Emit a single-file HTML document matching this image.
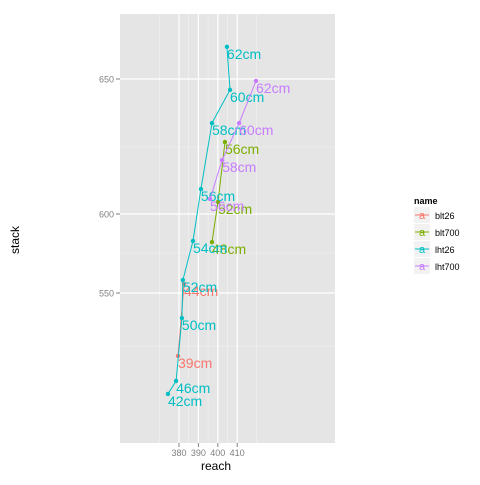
<!DOCTYPE html>
<html><head><meta charset="utf-8"><style>
body{margin:0;background:#fff;}
svg text{font-family:"Liberation Sans",sans-serif;}
</style></head><body>
<svg width="480" height="480" xmlns="http://www.w3.org/2000/svg">
<rect x="120" y="14" width="215" height="429" fill="#E5E5E5"/>
<g id="grid"></g>
<g id="marks"></g>
<g id="axes"></g>
<text x="216" y="470" font-size="12" text-anchor="middle">reach</text>
<text transform="translate(19,240) rotate(-90)" font-size="12" text-anchor="middle">stack</text>
<g id="legend"></g>
</svg>
<script>
const seriesNames=["blt26","blt700","lht26","lht700"];
const colors=["#F8766D","#7CAE00","#00BFC4","#C77CFF"];
const blt26Reach=[379.5,382.6];
const blt26Stack=[520.4,555.6];
const blt26Labels=["39cm","44cm"];
const blt700Reach=[397,400.1,403.7];
const blt700Stack=[582,604.5,626.8];
const blt700Labels=["48cm","52cm","56cm"];
const lht26Reach=[374.3,378.5,381.5,382,387.2,391.3,397,406.3,404.7];
const lht26Stack=[502.8,508.8,538.2,558.1,582.7,609.3,633.8,646,662];
const lht26Labels=["42cm","46cm","50cm","52cm","54cm","56cm","58cm","60cm","62cm"];
const lht700Reach=[396,402.2,411,419.7];
const lht700Stack=[605.6,620.1,633.8,649.3];
const lht700Labels=["56cm","58cm","60cm","62cm"];
const xTicks=[380,390,400,410];
const yTicks=[550,600,650];
const yMinor=[525,575,625];
const NS="http://www.w3.org/2000/svg";
function xs(v){return 179+(v-380)*1.94;}
const yk=[475,500,525,550,575,600,625,650,675],yp=[454,400,346,293,253,214,147,79,12];
function ys(v){for(let i=0;i<yk.length-1;i++){if(v<=yk[i+1]||i==yk.length-2){return yp[i]+(v-yk[i])/(yk[i+1]-yk[i])*(yp[i+1]-yp[i]);}}}
function mk(t,a,p){const e=document.createElementNS(NS,t);for(const k in a)e.setAttribute(k,a[k]);p.appendChild(e);return e;}
const grid=document.getElementById('grid'),marks=document.getElementById('marks'),axes=document.getElementById('axes'),leg=document.getElementById('legend');
for(const v of yMinor){const l=mk('line',{x1:120,x2:335,y1:ys(v),y2:ys(v),stroke:'#F2F2F2','stroke-width':0.6},grid);

}
for(let i=0;i<xTicks.length-1;i++){const v=(xTicks[i]+xTicks[i+1])/2;const l=mk('line',{x1:xs(v),x2:xs(v),y1:14,y2:443,stroke:'#F2F2F2','stroke-width':0.6},grid);

}
for(const v of [370,420]){const l=mk('line',{x1:xs(v),x2:xs(v),y1:14,y2:443,stroke:'#F2F2F2','stroke-width':0.6},grid);

}
for(const v of yTicks){const y=ys(v);const l=mk('line',{x1:120,x2:335,y1:y,y2:y,stroke:'#fff','stroke-width':1.2},grid);


const tk=mk('line',{x1:116,x2:120,y1:y,y2:y,stroke:'#7F7F7F'},axes);


const t=mk('text',{x:114,y:y+3.5,'font-size':9,'text-anchor':'end',fill:'#7F7F7F'},axes);t.textContent=v;

}
for(const v of xTicks){const x=xs(v);const l=mk('line',{x1:x,x2:x,y1:14,y2:443,stroke:'#fff','stroke-width':1.2},grid);


const tk=mk('line',{x1:x,x2:x,y1:443,y2:447,stroke:'#7F7F7F'},axes);


const t=mk('text',{x:x,y:456,'font-size':9,'text-anchor':'middle',fill:'#7F7F7F'},axes);t.textContent=v;

}
const all=[[blt26Reach,blt26Stack,blt26Labels],[blt700Reach,blt700Stack,blt700Labels],[lht26Reach,lht26Stack,lht26Labels],[lht700Reach,lht700Stack,lht700Labels]];
all.forEach((s,k)=>{const [rx,sy,lb]=s;const c=colors[k];
const pts=rx.map((v,i)=>xs(v)+','+ys(sy[i])).join(' ');
const pl=mk('polyline',{points:pts,fill:'none',stroke:c,'stroke-width':1},marks);


rx.forEach((v,i)=>{const cx=xs(v),cy=ys(sy[i]);
const p=mk('circle',{cx:cx,cy:cy,r:2.2,fill:c},marks);


const t=mk('text',{x:cx,y:cy+12,'font-size':14,fill:c},marks);t.textContent=lb[i];

});});
const lt=mk('text',{x:414,y:204,'font-size':9,'font-weight':'bold'},leg);lt.textContent='name';


seriesNames.forEach((n,i)=>{const y=207+i*17;
const r=mk('rect',{x:414,y:y,width:16,height:16,fill:'#F2F2F2'},leg);


const l=mk('line',{x1:415,x2:429,y1:y+8,y2:y+8,stroke:colors[i],'stroke-width':1},leg);


const a=mk('text',{x:422,y:y+12,'font-size':11,'text-anchor':'middle',fill:colors[i]},leg);a.textContent='a';


const t=mk('text',{x:435,y:y+12,'font-size':9},leg);t.textContent=n;

});
</script>
</body></html>
